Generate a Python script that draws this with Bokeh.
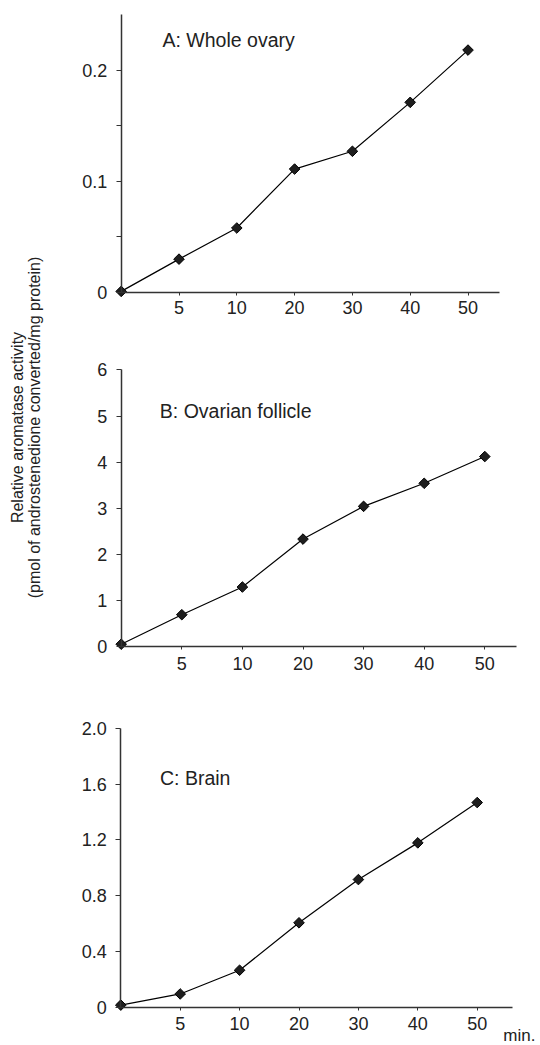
import numpy as np
from bokeh.plotting import figure
from bokeh.layouts import row, column
from bokeh.models import Label, FixedTicker, ColumnDataSource, Range1d
from bokeh.embed import file_html
from bokeh.resources import INLINE

# ---- data ----
times = [0, 5, 10, 20, 30, 40, 50]          # minutes (equally spaced categories)
whole_ovary = [0.001, 0.030, 0.058, 0.111, 0.127, 0.171, 0.218]
ovarian_follicle = [0.05, 0.69, 1.29, 2.33, 3.04, 3.54, 4.12]
brain = [0.015, 0.095, 0.265, 0.605, 0.915, 1.178, 1.467]

A_yticks = [0, 0.05, 0.1, 0.15, 0.2]
A_ylabels = ["0", "", "0.1", "", "0.2"]
B_yticks = [0, 1, 2, 3, 4, 5, 6]
B_ylabels = ["0", "1", "2", "3", "4", "5", "6"]
C_yticks = [0, 0.4, 0.8, 1.2, 1.6, 2.0]
C_ylabels = ["0", "0.4", "0.8", "1.2", "1.6", "2.0"]

titles = ["A: Whole ovary", "B: Ovarian follicle", "C: Brain"]
ylabel1 = "Relative aromatase activity"
ylabel2 = "(pmol of androstenedione converted/mg protein)"
xunit = "min."

FONT = "Liberation Sans"
TXT = "#222222"
AX = "#333333"
TICK_FS = "18px"

COL_X = 46      # left edge of the panel column (page px)
PANEL_W = 490   # canvas width of each panel


def make_panel(vals, yticks, ylabels, y_top, canvas_top, canvas_h,
               x0_px, ppu_x, axis_right_px, y0_px, ppu_y, xlab_standoff,
               title, tx, ty):
    # ranges so that the whole canvas is the frame; axes are pinned at 0
    x_start = (COL_X - x0_px) / ppu_x
    x_end = (COL_X + PANEL_W - x0_px) / ppu_x
    y_end = (y0_px - canvas_top) / ppu_y
    y_start = (y0_px - (canvas_top + canvas_h)) / ppu_y
    p = figure(width=PANEL_W, height=canvas_h,
               x_range=Range1d(x_start, x_end), y_range=Range1d(y_start, y_end),
               output_backend="svg", toolbar_location=None,
               min_border=0, min_border_left=0, min_border_right=0,
               min_border_top=0, min_border_bottom=0)
    p.outline_line_color = None
    p.xgrid.visible = False
    p.ygrid.visible = False
    p.background_fill_color = "white"
    p.border_fill_color = "white"

    src = ColumnDataSource(dict(x=list(range(len(times))), y=vals))
    p.line("x", "y", source=src, line_color="black", line_width=1.2)
    p.scatter("x", "y", source=src, marker="square", angle=np.pi / 4, size=7.5,
              fill_color="#1e1e1e", line_color="black", line_width=1)

    xa = p.xaxis[0]
    xa.fixed_location = 0
    xa.bounds = (0, (axis_right_px - x0_px) / ppu_x)
    xa.ticker = FixedTicker(ticks=list(range(1, len(times))))
    xa.major_label_overrides = {i: str(times[i]) for i in range(1, len(times))}
    xa.minor_tick_line_color = None
    xa.major_tick_out = 3
    xa.major_tick_in = 0
    xa.major_label_standoff = xlab_standoff
    xa.axis_line_color = AX
    xa.axis_line_width = 1.5
    xa.major_tick_line_color = AX
    xa.major_label_text_font = FONT
    xa.major_label_text_font_size = TICK_FS
    xa.major_label_text_color = TXT

    ya = p.yaxis[0]
    ya.fixed_location = 0
    ya.bounds = (0, y_top)
    ya.ticker = FixedTicker(ticks=yticks)
    ya.major_label_overrides = {t: l for t, l in zip(yticks, ylabels)}
    ya.minor_tick_line_color = None
    ya.major_tick_out = 5
    ya.major_tick_in = 0
    ya.major_label_standoff = 9
    ya.axis_line_color = AX
    ya.axis_line_width = 1.5
    ya.major_tick_line_color = AX
    ya.major_label_text_font = FONT
    ya.major_label_text_font_size = TICK_FS
    ya.major_label_text_color = TXT

    p.add_layout(Label(x=tx, y=ty, text=title, text_font=FONT,
                       text_font_size="19.5px", text_color=TXT,
                       text_align="left", text_baseline="middle"))
    return p


pA = make_panel(whole_ovary, A_yticks, A_ylabels, 0.25, 0, 340, 120.7, 57.8, 499, 292.0, 1112.0, 5,
                titles[0], 0.715, 0.2275)
pB = make_panel(ovarian_follicle, B_yticks, B_ylabels, 6.0, 340, 350, 120.7, 60.6, 516, 646.0, 46.1, 7,
                titles[1], 0.637, 5.1)
pC = make_panel(brain, C_yticks, C_ylabels, 2.0, 690, 355, 120.3, 59.4, 511.7, 1006.7, 139.5, 7,
                titles[2], 0.66, 1.644)
pC.add_layout(Label(x=6.44, y=-0.203, text=xunit, text_font=FONT,
                    text_font_size="17px", text_color=TXT,
                    text_align="left", text_baseline="middle"))

# y-axis title column
lab = figure(width=COL_X, height=1045, x_range=Range1d(0, COL_X), y_range=Range1d(0, 1045),
             output_backend="svg", toolbar_location=None,
             x_axis_type=None, y_axis_type=None,
             min_border=0, min_border_left=0, min_border_right=0,
             min_border_top=0, min_border_bottom=0)
lab.outline_line_color = None
lab.xgrid.visible = False
lab.ygrid.visible = False
lab.add_layout(Label(x=17, y=618, text=ylabel1, angle=np.pi / 2, text_font=FONT,
                     text_font_size="16px", text_color=TXT,
                     text_align="center", text_baseline="middle"))
lab.add_layout(Label(x=34, y=618, text=ylabel2, angle=np.pi / 2, text_font=FONT,
                     text_font_size="16px", text_color=TXT,
                     text_align="center", text_baseline="middle"))

layout = row(lab, column(pA, pB, pC))
open("out.html", "w").write(file_html(layout, INLINE))
